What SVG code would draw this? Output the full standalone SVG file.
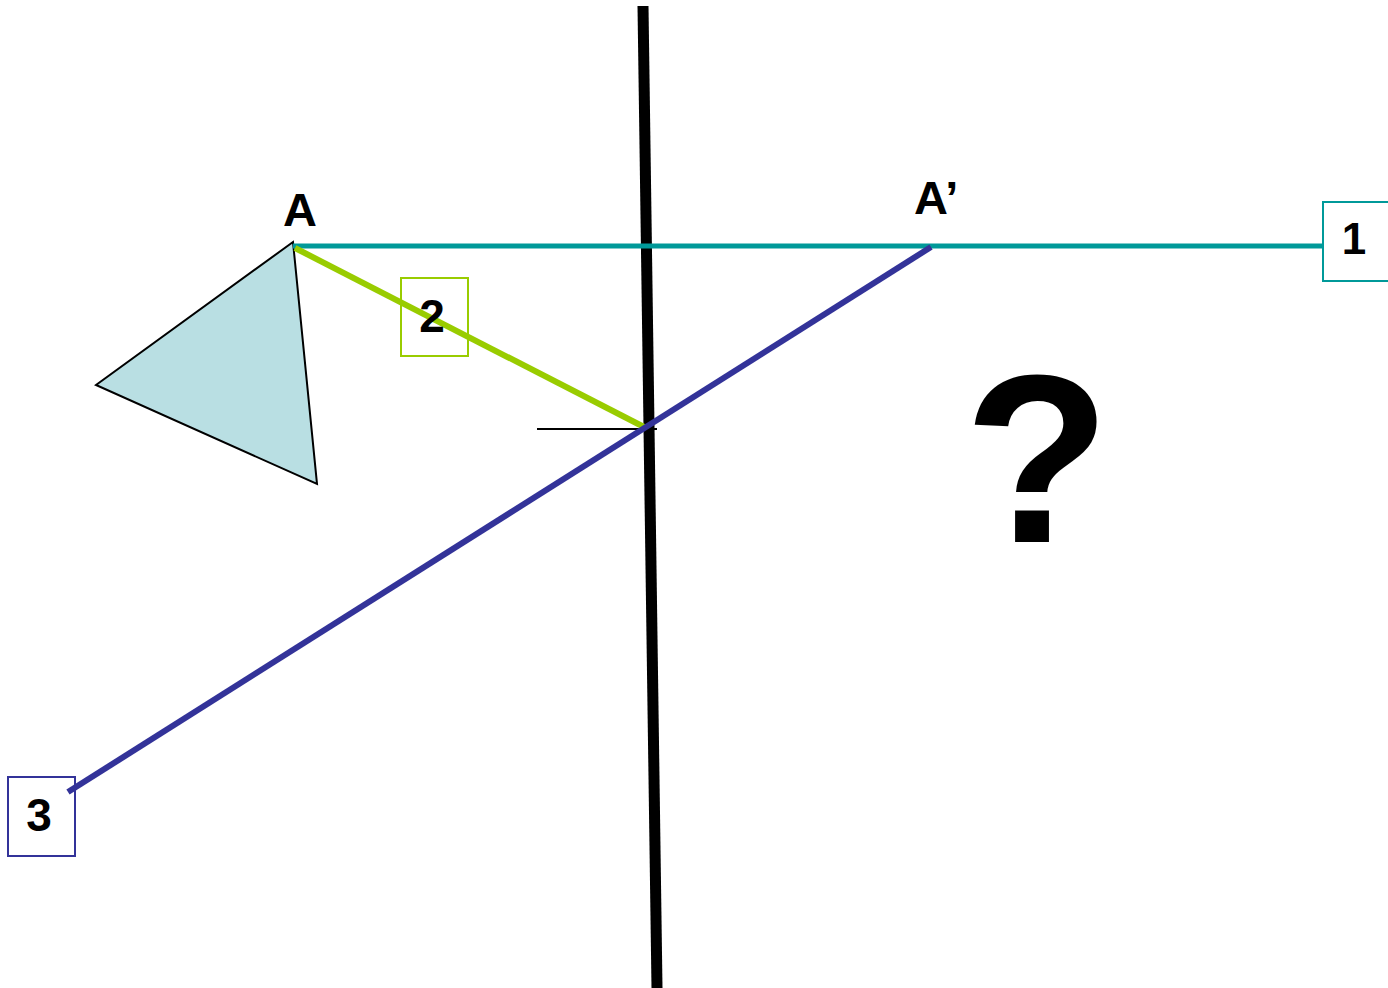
<svg xmlns="http://www.w3.org/2000/svg" width="1388" height="988" viewBox="0 0 1388 988">
<style>
text{font-family:"Liberation Sans",Arial,sans-serif;font-weight:bold;fill:#000}
.lbl{font-size:47px}
.num{font-size:46px;text-anchor:middle}
.box{fill:none;stroke-width:2}
</style>
<rect width="1388" height="988" fill="#fff"/>
<g id="triangle">
<polygon points="293,242 96,385 317,484" fill="#b9dfe3" stroke="#000" stroke-width="2"/>
</g>
<g id="connectors" fill="none">
<line id="mirror" x1="643" y1="6" x2="657" y2="988" stroke="#000" stroke-width="11"/>
<line id="normal" x1="537" y1="429" x2="657" y2="429" stroke="#000" stroke-width="2"/>
<line id="ray1" x1="293" y1="246" x2="1324" y2="246" stroke="#009999" stroke-width="5"/>
<line id="ray2" x1="295" y1="248" x2="646" y2="428" stroke="#99cc00" stroke-width="6"/>
<line id="ray3" x1="931" y1="247" x2="68" y2="792" stroke="#333399" stroke-width="6"/>
</g>
<g id="labelA"><text class="lbl" x="300" y="226" text-anchor="middle">A</text></g>
<g id="labelA2"><text class="lbl" x="914" y="214">A’</text></g>
<g id="box1">
<rect class="box" x="1323" y="202" width="68" height="79" stroke="#009999"/>
<text class="num" x="1354" y="254" style="font-size:44px">1</text>
</g>
<g id="box2">
<rect class="box" x="401" y="278" width="67" height="78" stroke="#99cc00"/>
<text class="num" x="432" y="332">2</text>
</g>
<g id="box3">
<rect class="box" x="8" y="777" width="67" height="79" stroke="#333399"/>
<text class="num" x="39" y="831">3</text>
</g>
<g id="question"><text x="1037" y="542" text-anchor="middle" style="font-size:240px">?</text></g>
</svg>
